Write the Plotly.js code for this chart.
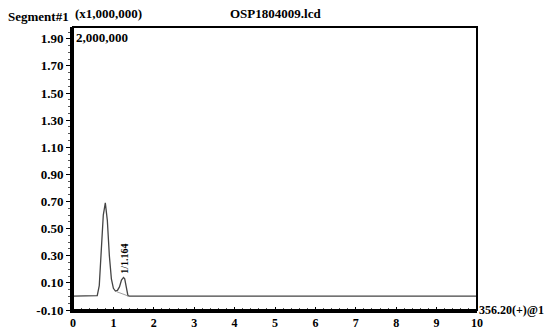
<!DOCTYPE html>
<html><head><meta charset="utf-8">
<script src="https://cdn.plot.ly/plotly-3.0.1.min.js"></script>
<style>html,body{margin:0;padding:0;background:#fff}#c{width:546px;height:331px}</style>
</head><body><div id="c"></div>
<script>
const timeMin = [0, 0.55, 0.60, 0.65, 0.70, 0.75, 0.80, 0.85, 0.90, 0.95, 1.00, 1.05, 1.10, 1.15, 1.20, 1.25, 1.28, 1.32, 1.36, 1.40, 10];
const intensity = [0.003, 0.003, 0.006, 0.08, 0.30, 0.60, 0.69, 0.56, 0.30, 0.13, 0.06, 0.04, 0.045, 0.07, 0.12, 0.14, 0.13, 0.05, 0.006, 0.003, 0.003];
const integBaseX = [1.08, 1.36];
const integBaseY = [0.035, 0.004];
const yTicks = [-0.10, 0.10, 0.30, 0.50, 0.70, 0.90, 1.10, 1.30, 1.50, 1.70, 1.90];
const yTickText = ['-0.10','0.10','0.30','0.50','0.70','0.90','1.10','1.30','1.50','1.70','1.90'];
const xTicks = [0,1,2,3,4,5,6,7,8,9,10];
const peakLabel = '1/1.164';
const peakX = 1.27, peakY = 0.155;

const FAM = 'Liberation Serif';
const traces = [
  {x: timeMin, y: intensity, type: 'scatter', mode: 'lines', line: {color: '#444', width: 1.3}, hoverinfo: 'skip'},
  {x: integBaseX, y: integBaseY, type: 'scatter', mode: 'lines', line: {color: '#888', width: 0.8}, hoverinfo: 'skip'}
];
const layout = {
  width: 546, height: 331, showlegend: false,
  margin: {l: 73, r: 69, t: 27, b: 21, pad: 0},
  paper_bgcolor: '#fff', plot_bgcolor: '#fff',
  font: {family: FAM, size: 12, color: '#000'},
  xaxis: {range: [0, 10], tickvals: xTicks, ticks: 'inside', ticklen: 3, tickwidth: 1, tickcolor: '#000',
    showgrid: false, zeroline: false, showline: true, linecolor: '#000', linewidth: 3,
    tickfont: {family: FAM, size: 12, color: '#000', weight: 'bold'},
    minor: {dtick: 0.2, ticks: 'inside', ticklen: 2, tickcolor: '#555', showgrid: false}},
  yaxis: {range: [-0.10, 1.987], tickvals: yTicks, ticktext: yTickText, ticks: 'outside', ticklen: 4, tickwidth: 1, tickcolor: '#000',
    showgrid: false, zeroline: false, showline: true, linecolor: '#000', linewidth: 3,
    tickfont: {family: FAM, size: 13, color: '#000', weight: 'bold'},
    minor: {dtick: 0.05, ticks: 'outside', ticklen: 2, tickcolor: '#555', showgrid: false}},
  shapes: [{type: 'rect', xref: 'paper', yref: 'paper', x0: 0, x1: 1, y0: 0, y1: 1, line: {color: '#000', width: 2}}],
  annotations: [
    {text: 'OSP1804009.lcd', xref: 'paper', yref: 'paper', x: 0.5, y: 1, yshift: 4, xanchor: 'center', yanchor: 'bottom', showarrow: false, font: {family: FAM, size: 13, weight: 'bold'}},
    {text: 'Segment#1', xref: 'paper', yref: 'paper', x: 0, xshift: -2, y: 1, yshift: 1, xanchor: 'right', yanchor: 'bottom', showarrow: false, font: {family: FAM, size: 13, weight: 'bold'}},
    {text: '(x1,000,000)', xref: 'paper', yref: 'paper', x: 0, xshift: 0, y: 1, yshift: 4, xanchor: 'left', yanchor: 'bottom', showarrow: false, font: {family: FAM, size: 13, weight: 'bold'}},
    {text: '2,000,000', xref: 'paper', yref: 'paper', x: 0, xshift: 1, y: 1, yshift: -1, xanchor: 'left', yanchor: 'top', showarrow: false, font: {family: FAM, size: 13, weight: 'bold'}},
    {text: '356.20(+)@1', xref: 'paper', yref: 'paper', x: 1, xshift: 0, y: 0, yshift: 0, xanchor: 'left', yanchor: 'middle', showarrow: false, font: {family: FAM, size: 12, weight: 'bold'}},
    {text: peakLabel, x: peakX, y: peakY, xanchor: 'center', yanchor: 'bottom', textangle: -90, showarrow: false, font: {family: FAM, size: 10, weight: 'bold'}}
  ]
};
Plotly.newPlot('c', traces, layout, {displayModeBar: false, staticPlot: true});
</script></body></html>
